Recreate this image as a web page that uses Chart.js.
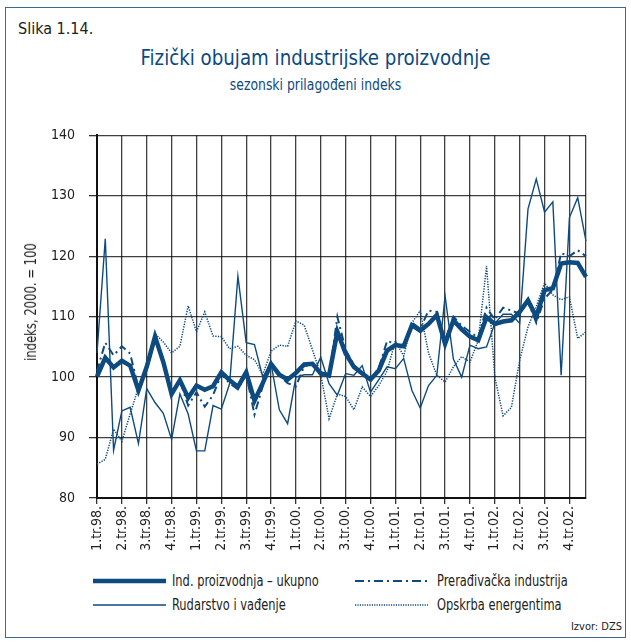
<!DOCTYPE html>
<html>
<head>
<meta charset="utf-8">
<script src="https://cdn.jsdelivr.net/npm/chart.js@4.4.1/dist/chart.umd.min.js"></script>
<style>
  body { margin: 0; background: #fff; width: 631px; height: 642px; overflow: hidden; font-family: "Liberation Sans Narrow", "DejaVu Sans Condensed", "Roboto", sans-serif; }
  #frame { position: absolute; left: 5px; top: 7px; width: 619px; height: 629px; border: 1px solid #3a6b96; }
  .abs { position: absolute; white-space: nowrap; }
  #slika { left: 18px; top: 19px; font-size: 16px; color: #222; }
  #title { left: 0; width: 631px; top: 45px; text-align: center; font-size: 22px; color: #0d4a7f; transform: scaleX(0.92); }
  #subtitle { left: 0; width: 631px; top: 76px; text-align: center; font-size: 15px; color: #0d4a7f; transform: scaleX(0.92); }
  #ytitle { left: 31px; top: 302px; font-size: 15px; color: #222; transform: translate(-50%, -50%) rotate(-90deg) scaleX(0.86); }
  #wrap { position: absolute; left: 0; top: 113px; width: 631px; height: 457px; }
  .leg { font-size: 15.5px; color: #222; }
  .leg svg { position: absolute; left: 0; top: 0; }
  .leg span { transform: scaleX(0.82); transform-origin: left; }
  #source { right: 9px; top: 620px; font-size: 11px; color: #222; }
</style>
</head>
<body>
<div id="frame"></div>
<div id="slika" class="abs">Slika 1.14.</div>
<div id="title" class="abs">Fizički obujam industrijske proizvodnje</div>
<div id="subtitle" class="abs">sezonski prilagođeni indeks</div>
<div id="wrap"><canvas id="chart"></canvas></div>
<div id="ytitle" class="abs">indeks, 2000. = 100</div>
<div id="legend"></div>
<div id="source" class="abs">Izvor: DZS</div>
<script>
const quarters = [
  "1.tr.98.", "2.tr.98.", "3.tr.98.", "4.tr.98.",
  "1.tr.99.", "2.tr.99.", "3.tr.99.", "4.tr.99.",
  "1.tr.00.", "2.tr.00.", "3.tr.00.", "4.tr.00.",
  "1.tr.01.", "2.tr.01.", "3.tr.01.", "4.tr.01.",
  "1.tr.02.", "2.tr.02.", "3.tr.02.", "4.tr.02."
];

// monthly values, Jan 1998 - Dec 2002
const ukupno = [
  100.1, 103.2, 101.6, 102.7, 101.9, 97.8, 101.7, 106.7, 102.5, 97.2, 99.5, 96.6,
  98.6, 97.9, 98.5, 100.8, 99.5, 98.4, 100.8, 96.1, 99.0, 102.2, 100.4, 99.6,
  100.7, 102.1, 102.2, 100.6, 100.3, 107.5, 103.9, 101.7, 100.6, 99.6, 101.1, 104.4,
  105.3, 105.1, 108.6, 107.7, 108.8, 110.3, 105.5, 109.4, 107.9, 106.7, 106.1, 109.9,
  108.8, 109.2, 109.4, 110.8, 112.7, 110.0, 114.4, 114.7, 118.8, 119.0, 118.9, 116.6
];
const preradivacka = [
  101.0, 105.7, 103.6, 105.1, 103.9, 98.2, 101.2, 106.4, 103.0, 97.0, 99.4, 95.3,
  97.5, 95.1, 97.0, 100.5, 99.0, 98.0, 100.5, 93.8, 98.5, 102.5, 100.3, 99.0,
  98.5, 101.8, 102.2, 100.3, 100.0, 110.0, 104.5, 102.0, 100.5, 99.6, 101.5, 106.0,
  105.5, 105.0, 109.0, 108.0, 111.0, 110.8, 106.0, 110.0, 108.5, 107.5, 106.5, 111.5,
  109.5, 111.5, 111.0, 110.5, 112.5, 109.0, 113.0, 114.5, 120.5, 120.0, 121.0, 120.0
];
const rudarstvo = [
  104.0, 122.9, 87.9, 94.4, 95.0, 89.0, 98.1, 95.8, 94.0, 89.7, 97.2, 93.9,
  87.8, 87.8, 95.3, 94.7, 98.9, 116.7, 105.7, 105.4, 100.0, 102.2, 94.6, 92.3,
  100.0, 100.4, 100.4, 103.3, 98.9, 97.0, 100.6, 100.3, 101.9, 97.5, 99.6, 101.7,
  101.4, 103.1, 97.8, 94.9, 98.6, 100.3, 113.4, 103.0, 100.0, 105.3, 104.7, 105.0,
  108.9, 110.4, 110.4, 108.9, 127.8, 132.8, 127.3, 129.0, 100.3, 126.4, 129.7, 122.5
];
const opskrba = [
  85.6, 86.4, 91.4, 89.4, 93.9, 98.3, 101.7, 107.2, 105.8, 104.0, 105.1, 111.8,
  107.5, 110.8, 106.8, 106.7, 104.7, 105.1, 103.6, 102.9, 100.4, 104.3, 105.3, 105.1,
  109.3, 108.6, 104.5, 100.4, 93.1, 97.2, 96.8, 94.6, 98.4, 96.8, 98.6, 101.0,
  106.0, 103.5, 109.0, 111.0, 104.0, 100.3, 99.2, 101.7, 103.4, 102.5, 106.1, 118.4,
  100.0, 93.6, 95.0, 102.8, 108.3, 111.7, 115.6, 113.6, 112.8, 113.3, 106.4, 107.5
];

const blue = "#0d4a7f";
const gridColor = "rgba(0,0,0,0.75)";
const font = "'Liberation Sans Narrow', 'DejaVu Sans Condensed', Roboto, sans-serif";
const labels = Array.from({length: ukupno.length}, (_, i) => i % 3 === 0 ? quarters[i / 3] : "");

const legendItems = [
  {label: "Ind. proizvodnja – ukupno", width: 4.5, dash: "", x: 93, y: 581},
  {label: "Prerađivačka industrija", width: 2, dash: "9 4 2 4", x: 355, y: 581},
  {label: "Rudarstvo i vađenje", width: 1.5, dash: "", x: 93, y: 605},
  {label: "Opskrba energentima", width: 1.5, dash: "1.2 1.2", x: 355, y: 605}
];

document.getElementById("legend").innerHTML = legendItems.map(item => `
  <div class="abs leg" style="left:${item.x}px;top:${item.y - 10}px;height:20px;width:260px;">
    <svg width="74" height="20"><line x1="0" y1="10" x2="73" y2="10" stroke="${blue}" stroke-width="${item.width}" stroke-dasharray="${item.dash}"/></svg>
    <span class="abs" style="left:${item.x === 93 ? 79 : 82}px;top:0px;line-height:20px;">${item.label}</span>
  </div>
`).join("");

const isGrid = i => i % 3 === 0 || i === ukupno.length - 1;

new Chart(document.getElementById("chart"), {
  type: "line",
  data: {
    labels,
    datasets: [
      {label: "Ind. proizvodnja – ukupno", data: ukupno, borderColor: blue, borderWidth: 4.5, order: 0},
      {label: "Prerađivačka industrija", data: preradivacka, borderColor: blue, borderWidth: 2, borderDash: [8, 4, 2, 4], order: 1},
      {label: "Rudarstvo i vađenje", data: rudarstvo, borderColor: blue, borderWidth: 1.4, order: 2},
      {label: "Opskrba energentima", data: opskrba, borderColor: blue, borderWidth: 1.5, borderDash: [1.3, 1.3], order: 3}
    ]
  },
  options: {
    responsive: true,
    maintainAspectRatio: false,
    animation: false,
    layout: {padding: {left: 0, right: 45, top: 8, bottom: 0}},
    elements: {point: {radius: 0}, line: {tension: 0, borderJoinStyle: "miter"}},
    plugins: {legend: {display: false}, tooltip: {enabled: false}},
    scales: {
      x: {
        type: "category",
        offset: false,
        afterFit: scale => { scale.height = 72; },
        grid: {
          color: ctx => isGrid(ctx.index) ? gridColor : "rgba(0,0,0,0)",
          tickColor: ctx => isGrid(ctx.index) && ctx.index < 59 ? "#333" : "rgba(0,0,0,0)",
          lineWidth: 1.3,
          tickLength: 6
        },
        border: {color: "#111", width: 2},
        ticks: {
          autoSkip: false,
          maxRotation: 90,
          minRotation: 90,
          padding: 2,
          color: "#222",
          font: {family: font, size: 14}
        }
      },
      y: {
        min: 80,
        max: 140,
        afterFit: scale => { scale.width = 97; },
        ticks: {stepSize: 10, padding: 14, color: "#222", font: {family: font, size: 14}},
        grid: {color: gridColor, lineWidth: 1.3, tickLength: 8, tickColor: "#333"},
        border: {color: "#111", width: 2}
      }
    }
  }
});
</script>
</body>
</html>
